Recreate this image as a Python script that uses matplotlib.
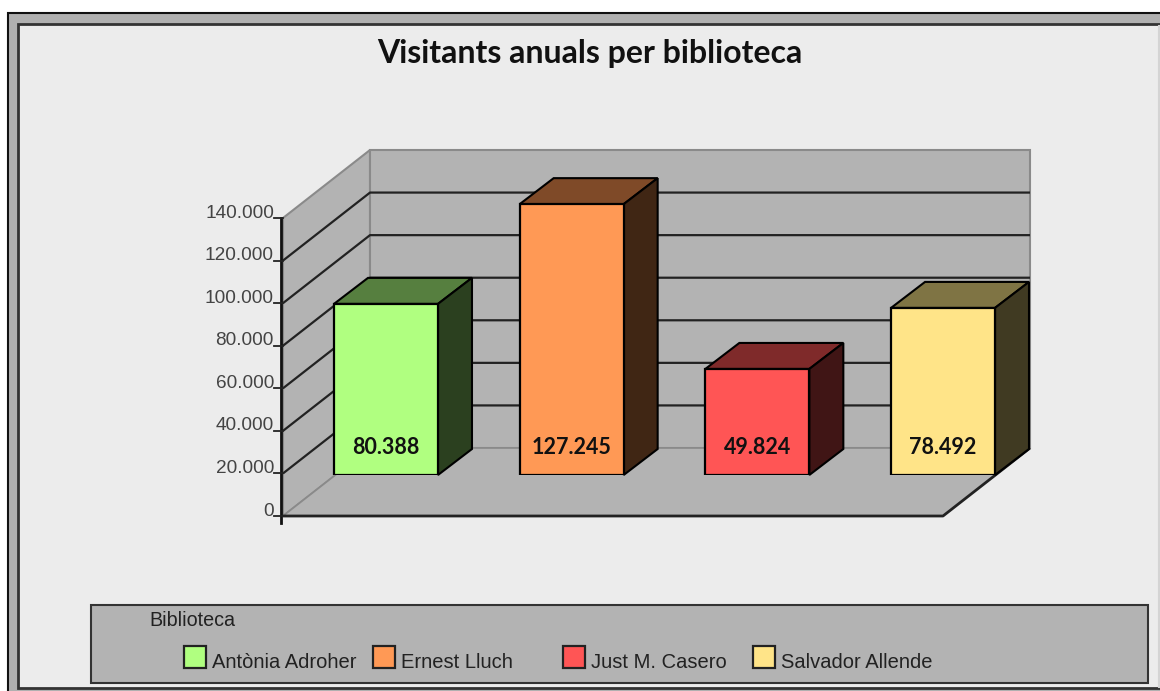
import matplotlib
matplotlib.use("Agg")
import matplotlib.pyplot as plt
from matplotlib.patches import Polygon, Rectangle

# data
biblioteques = ["Antònia Adroher", "Ernest Lluch", "Just M. Casero", "Salvador Allende"]
visitants = [80388, 127245, 49824, 78492]
y_ticks = [0, 20000, 40000, 60000, 80000, 100000, 120000, 140000]

front_colors = ["#b0ff80", "#ff9955", "#ff5555", "#ffe488"]
top_colors = ["#567f3f", "#7f4a28", "#7f2a2a", "#7f7444"]
side_colors = ["#2b401f", "#402614", "#401515", "#403a22"]

W, H = 1160, 691
WALL = "#b3b3b3"
BG = "#ececec"
SCALE = 298 / 140000  # pixels per visitor


def fmt(v):
    return f"{v:,}".replace(",", ".")


def poly(ax, pts, color, edge="black", lw=1.5, z=2):
    ax.add_patch(Polygon(pts, closed=True, facecolor=color, edgecolor=edge, linewidth=lw, zorder=z))


fig = plt.figure(figsize=(W / 100, H / 100), dpi=100, facecolor="white")

# pixel axes for the frame, the walls and the legend
bg = fig.add_axes([0, 0, 1, 1], zorder=1)
bg.set_xlim(0, W)
bg.set_ylim(H, 0)
bg.axis("off")

# frame, open on the right side
bg.add_patch(Rectangle((8, 13), W + 20, H + 10, facecolor="#b0b0b0", edgecolor="#111111", linewidth=1.5))
bg.add_patch(Rectangle((18, 24), W + 20, 664, facecolor=BG, edgecolor="#333333", linewidth=2))
bg.plot([1159, 1159], [26, 687], color="#d4d4d4", lw=1.5, zorder=1)

# walls and floor
x0, y0 = 283, 516
dx, dy = 87, -68
x1 = 943
top = 140000 * SCALE
poly(bg, [(x0, y0), (x0 + dx, y0 + dy), (x0 + dx, y0 + dy - top), (x0, y0 - top)], WALL, edge="#8a8a8a", lw=1.5)
poly(bg, [(x0 + dx, y0 + dy), (x1 + dx, y0 + dy), (x1 + dx, y0 + dy - top), (x0 + dx, y0 + dy - top)], WALL, edge="#8a8a8a", lw=1.5)
poly(bg, [(x0, y0), (x1, y0), (x1 + dx, y0 + dy), (x0 + dx, y0 + dy)], WALL, edge="none", lw=0)
bg.plot([x0, x0 + dx, x1 + dx], [y0, y0 + dy, y0 + dy], color="#8a8a8a", lw=1.2, zorder=3)
bg.plot([x0, x1, x1 + dx], [y0, y0, y0 + dy], color="#222222", lw=2, zorder=3, solid_capstyle="butt")

# gridlines and y axis
for v in y_ticks[1:-1]:
    yy = v * SCALE
    bg.plot([x0, x0 + dx, x1 + dx], [y0 - yy, y0 + dy - yy, y0 + dy - yy], color="#222222", lw=1.6,
            zorder=3, solid_capstyle="butt")
bg.plot([x0 - 2, x0 - 2], [y0 - top, y0 + 7], color="#111111", lw=2, zorder=4)
for v in y_ticks:
    yy = y0 - v * SCALE
    bg.plot([x0 - 9, x0], [yy, yy], color="#222222", lw=1.3, zorder=4)
    bg.text(x0 - 9, yy - 5, fmt(v), ha="right", va="center", fontsize=13.7,
            family="Liberation Sans", color="#444444", zorder=4)

# title
bg.text(590, 53, "Visitants anuals per biblioteca", ha="center", va="center",
        fontsize=23, fontweight="bold", family="Lato", color="#111111")

# legend
bg.add_patch(Rectangle((91, 605), 1057, 78, facecolor=WALL, edgecolor="#333333", linewidth=1.5, zorder=2))
bg.text(149, 621, "Biblioteca", ha="left", va="center", fontsize=14.2,
        family="Liberation Sans", color="#222222", zorder=3)
legend_x = [184, 373, 563, 753]
for name, col, lx in zip(biblioteques, front_colors, legend_x):
    bg.add_patch(Rectangle((lx, 646), 22, 22, facecolor=col, edgecolor="#222222", linewidth=1.6, zorder=3))
    bg.text(lx + 28, 663, name, ha="left", va="center", fontsize=14.5,
            family="Liberation Sans", color="#222222", zorder=3)

# bars: axis is the plane of the front faces
ax = fig.add_axes([293.15 / W, (H - 475) / H, 742.7 / W, 298 / H], zorder=2)
ax.patch.set_alpha(0)
ax.set_xlim(-0.5, 3.5)
ax.set_ylim(0, 140000)
ax.axis("off")

xpos = list(range(len(visitants)))
bar_w = 104 / 185.7
ax.bar(xpos, visitants, width=bar_w, color=front_colors, edgecolor="black", linewidth=1.6, zorder=5)

fig.canvas.draw()
ddx, ddy = 34, -26
for x, v, tc, sc in zip(xpos, visitants, top_colors, side_colors):
    (left, bottom) = ax.transData.transform((x - bar_w / 2, 0))
    (right, upper) = ax.transData.transform((x + bar_w / 2, v))
    bottom, upper = H - bottom, H - upper
    poly(bg, [(left, upper), (right, upper), (right + ddx, upper + ddy), (left + ddx, upper + ddy)], tc, z=5)
    poly(bg, [(right, upper), (right + ddx, upper + ddy), (right + ddx, bottom + ddy), (right, bottom)], sc, z=5)
    ax.annotate(fmt(v), (x, 0), xytext=(0, 27 * 0.72), textcoords="offset points", ha="center", va="center",
                fontsize=15.5, fontweight="bold", family="Lato", color="#111111", zorder=6)

fig.savefig("out.png", dpi=100, facecolor="white")
